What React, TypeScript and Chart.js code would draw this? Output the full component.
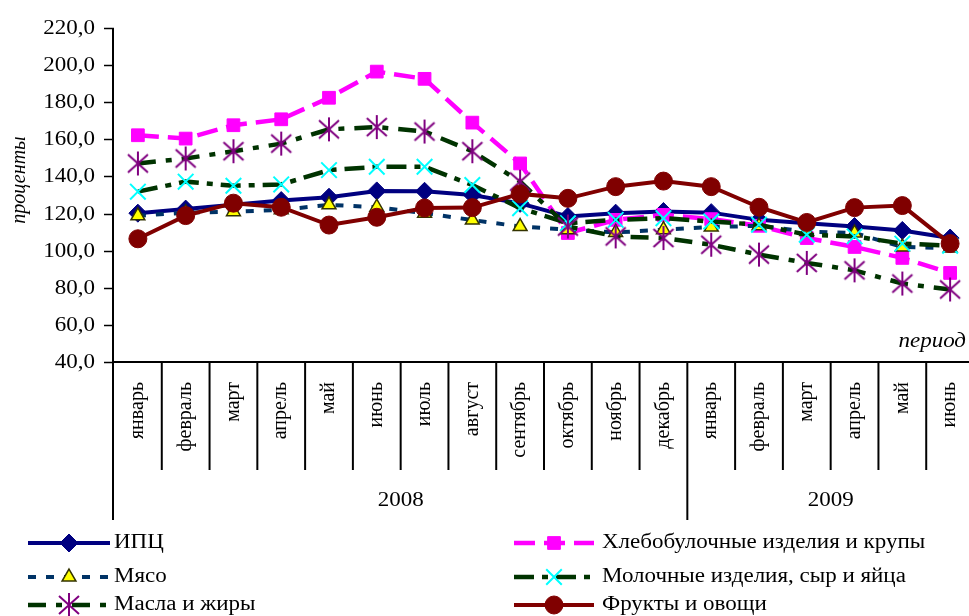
import { useEffect, useRef } from 'react';
import { Chart, registerables } from 'chart.js';
import { drawPoint } from 'chart.js/helpers';

Chart.register(...registerables);

// categories
const months = ['январь', 'февраль', 'март', 'апрель', 'май', 'июнь', 'июль', 'август', 'сентябрь',
    'октябрь', 'ноябрь', 'декабрь', 'январь', 'февраль', 'март', 'апрель', 'май', 'июнь'];
const years = ['2008', '2009'];
const yearStarts = [0, 12];
const yTicks = [40, 60, 80, 100, 120, 140, 160, 180, 200, 220];

// series values, %
const cpi = [120.2, 122.4, 124.7, 127.0, 128.8, 132.2, 132.0, 130.0, 125.5, 118.4, 120.2, 121.1, 120.5, 116.6, 114.8, 113.0, 110.9, 106.8];
const bread = [162.2, 160.4, 167.6, 170.8, 182.4, 196.5, 192.6, 169.0, 147.0, 109.5, 116.6, 119.3, 117.0, 113.4, 106.8, 102.0, 96.1, 88.0];
const meat = [118.8, 120.5, 121.0, 122.0, 124.7, 123.4, 120.2, 116.5, 113.0, 111.3, 109.8, 111.3, 112.7, 113.4, 110.3, 109.5, 102.0, 101.4];
const dairy = [131.8, 137.2, 135.0, 135.7, 143.4, 145.2, 145.2, 135.4, 122.9, 114.8, 116.6, 117.5, 115.7, 114.0, 108.6, 107.7, 103.8, 102.7];
const oils = [147.0, 149.7, 153.6, 157.7, 165.4, 166.6, 164.2, 153.6, 137.2, 113.0, 107.7, 106.8, 103.2, 97.9, 93.4, 89.4, 82.3, 79.1];
const fruit = [106.4, 118.9, 125.6, 123.4, 113.8, 118.0, 123.0, 123.2, 130.6, 128.2, 134.5, 137.5, 134.5, 123.4, 115.2, 123.2, 124.3, 103.8];

const seriesNames = ['ИПЦ', 'Хлебобулочные изделия и крупы', 'Мясо', 'Молочные изделия, сыр и яйца', 'Масла и жиры', 'Фрукты и овощи'];

const FONT = '"Liberation Serif", "Times New Roman", serif';
const SX = 1.15; // text in the picture is a bit wide

function put(ctx: CanvasRenderingContext2D, s: string, x: number, y: number, align: CanvasTextAlign, rot = 0, sx = SX) {
    ctx.save();
    ctx.translate(x, y);
    ctx.scale(sx, 1);
    if (rot) ctx.rotate(rot);
    ctx.textAlign = align;
    ctx.textBaseline = 'middle';
    ctx.fillText(s, 0, 0);
    ctx.restore();
}

// excel-like star marker: vertical bar plus an X
function makeStar() {
    const c = document.createElement('canvas');
    c.width = 26;
    c.height = 26;
    const g = c.getContext('2d')!;
    g.strokeStyle = '#800080';
    g.lineWidth = 2;
    g.beginPath();
    g.moveTo(13, 1); g.lineTo(13, 25);
    g.moveTo(3, 4); g.lineTo(23, 22);
    g.moveTo(23, 4); g.lineTo(3, 22);
    g.stroke();
    return c;
}

const framePlugin = {
    id: 'frame',
    afterDraw(chart: any) {
        const ctx: CanvasRenderingContext2D = chart.ctx;
        const xs = chart.scales.x;
        const ys = chart.scales.y;
        const { left, right, top, bottom } = chart.chartArea;
        const w = xs.getPixelForValue(1) - xs.getPixelForValue(0);
        ctx.save();
        ctx.strokeStyle = '#000';
        ctx.fillStyle = '#000';

        // y axis + ticks
        ctx.lineWidth = 2;
        ctx.beginPath();
        ctx.moveTo(left - 1, top);
        ctx.lineTo(left - 1, bottom + 158);
        ctx.stroke();
        ctx.lineWidth = 1.5;
        ctx.font = '20px ' + FONT;
        yTicks.forEach(v => {
            const y = Math.round(ys.getPixelForValue(v)) + 0.5;
            ctx.beginPath();
            ctx.moveTo(left - 10, y);
            ctx.lineTo(left, y);
            ctx.stroke();
            put(ctx, v.toFixed(1).replace('.', ','), left - 19, y, 'right');
        });

        // x axis, category boxes
        ctx.lineWidth = 2;
        ctx.beginPath();
        ctx.moveTo(left - 1, bottom);
        ctx.lineTo(right, bottom);
        ctx.stroke();
        months.forEach((m, i) => {
            const cx = xs.getPixelForValue(i);
            const edge = cx - w / 2;
            if (i > 0) {
                const isYear = yearStarts.includes(i);
                ctx.lineWidth = 2;
                ctx.beginPath();
                ctx.moveTo(edge, bottom);
                ctx.lineTo(edge, bottom + (isYear ? 158 : 108));
                ctx.stroke();
            }
            put(ctx, m, cx, bottom + 20, 'right', -Math.PI / 2, 1);
        });
        years.forEach((yr, k) => {
            const a = xs.getPixelForValue(yearStarts[k]) - w / 2;
            const b = k + 1 < years.length ? xs.getPixelForValue(yearStarts[k + 1]) - w / 2 : right;
            put(ctx, yr, (a + b) / 2, bottom + 139, 'center');
        });

        // axis titles
        ctx.font = 'italic 20px ' + FONT;
        put(ctx, 'период', 966, bottom - 20, 'right');
        put(ctx, 'проценты', 20, 180, 'center', -Math.PI / 2, 1);

        // legend, two columns
        ctx.font = '20px ' + FONT;
        const rows = [543, 577, 605];
        const cols = [{ x1: 28, x2: 110, tx: 114 }, { x1: 514, x2: 594, tx: 602 }];
        chart.data.datasets.forEach((ds: any, i: number) => {
            const c = cols[i % 2];
            const y = rows[Math.floor(i / 2)];
            ctx.save();
            ctx.strokeStyle = ds.borderColor;
            ctx.lineWidth = ds.borderWidth;
            ctx.setLineDash(ds.borderDash || []);
            ctx.beginPath();
            ctx.moveTo(c.x1, y);
            ctx.lineTo(c.x2, y);
            ctx.stroke();
            ctx.setLineDash([]);
            ctx.fillStyle = ds.pointBackgroundColor;
            ctx.strokeStyle = ds.pointBorderColor;
            ctx.lineWidth = ds.pointBorderWidth;
            drawPoint(ctx, { pointStyle: ds.pointStyle, radius: ds.pointRadius, rotation: 0, borderWidth: ds.pointBorderWidth }, (c.x1 + c.x2) / 2, y);
            ctx.restore();
            ctx.fillStyle = '#000';
            put(ctx, seriesNames[i], c.tx, y, 'left');
        });
        ctx.restore();
    },
};

export default function App() {
    const canvasRef = useRef<HTMLCanvasElement | null>(null);
    const chartRef = useRef<Chart | null>(null);

    useEffect(() => {
        if (!canvasRef.current) return;
        const star = makeStar();
        const line = (i: number, data: number[], color: string, width: number, dash: number[], pt: any) => ({
            label: seriesNames[i],
            data,
            borderColor: color,
            backgroundColor: color,
            borderWidth: width,
            borderDash: dash,
            tension: 0,
            order: 5 - i,
            ...pt,
        });

        chartRef.current = new Chart(canvasRef.current, {
            type: 'line',
            data: {
                labels: months,
                datasets: [
                    line(0, cpi, '#000080', 4, [], { pointStyle: 'rectRot', pointRadius: 9, pointBackgroundColor: '#000080', pointBorderColor: '#000080', pointBorderWidth: 1 }),
                    line(1, bread, '#FF00FF', 4.5, [21, 9], { pointStyle: 'rect', pointRadius: 9, pointBackgroundColor: '#FF00FF', pointBorderColor: '#FF00FF', pointBorderWidth: 1 }),
                    line(2, meat, '#003366', 4, [8, 10], { pointStyle: 'triangle', pointRadius: 8, pointBackgroundColor: '#FFFF00', pointBorderColor: '#333300', pointBorderWidth: 1.5 }),
                    line(3, dairy, '#003300', 4.5, [20, 8, 6, 8], { pointStyle: 'crossRot', pointRadius: 11, pointBackgroundColor: '#00FFFF', pointBorderColor: '#00FFFF', pointBorderWidth: 2 }),
                    line(4, oils, '#003300', 4.5, [18, 10, 6, 10], { pointStyle: star, pointRadius: 12, pointBackgroundColor: '#800080', pointBorderColor: '#800080', pointBorderWidth: 2 }),
                    line(5, fruit, '#800000', 4, [], { pointStyle: 'circle', pointRadius: 9, pointBackgroundColor: '#800000', pointBorderColor: '#800000', pointBorderWidth: 1 }),
                ],
            },
            options: {
                animation: false,
                responsive: true,
                maintainAspectRatio: false,
                layout: { padding: { left: 114, top: 28, right: 16, bottom: 254 } },
                plugins: { legend: { display: false }, tooltip: { enabled: false } },
                scales: {
                    x: { display: false, offset: true },
                    y: { display: false, min: 40, max: 220 },
                },
            },
            plugins: [framePlugin],
        } as any);

        return () => {
            if (chartRef.current) {
                chartRef.current.destroy();
                chartRef.current = null;
            }
        };
    }, []);

    return (
        <div style={{ position: 'fixed', left: 0, top: 0, width: 969, height: 616, overflow: 'hidden', background: '#fff' }}>
            <div style={{ position: 'relative', width: 990, height: 616 }}>
                <canvas ref={canvasRef}></canvas>
            </div>
        </div>
    );
}
